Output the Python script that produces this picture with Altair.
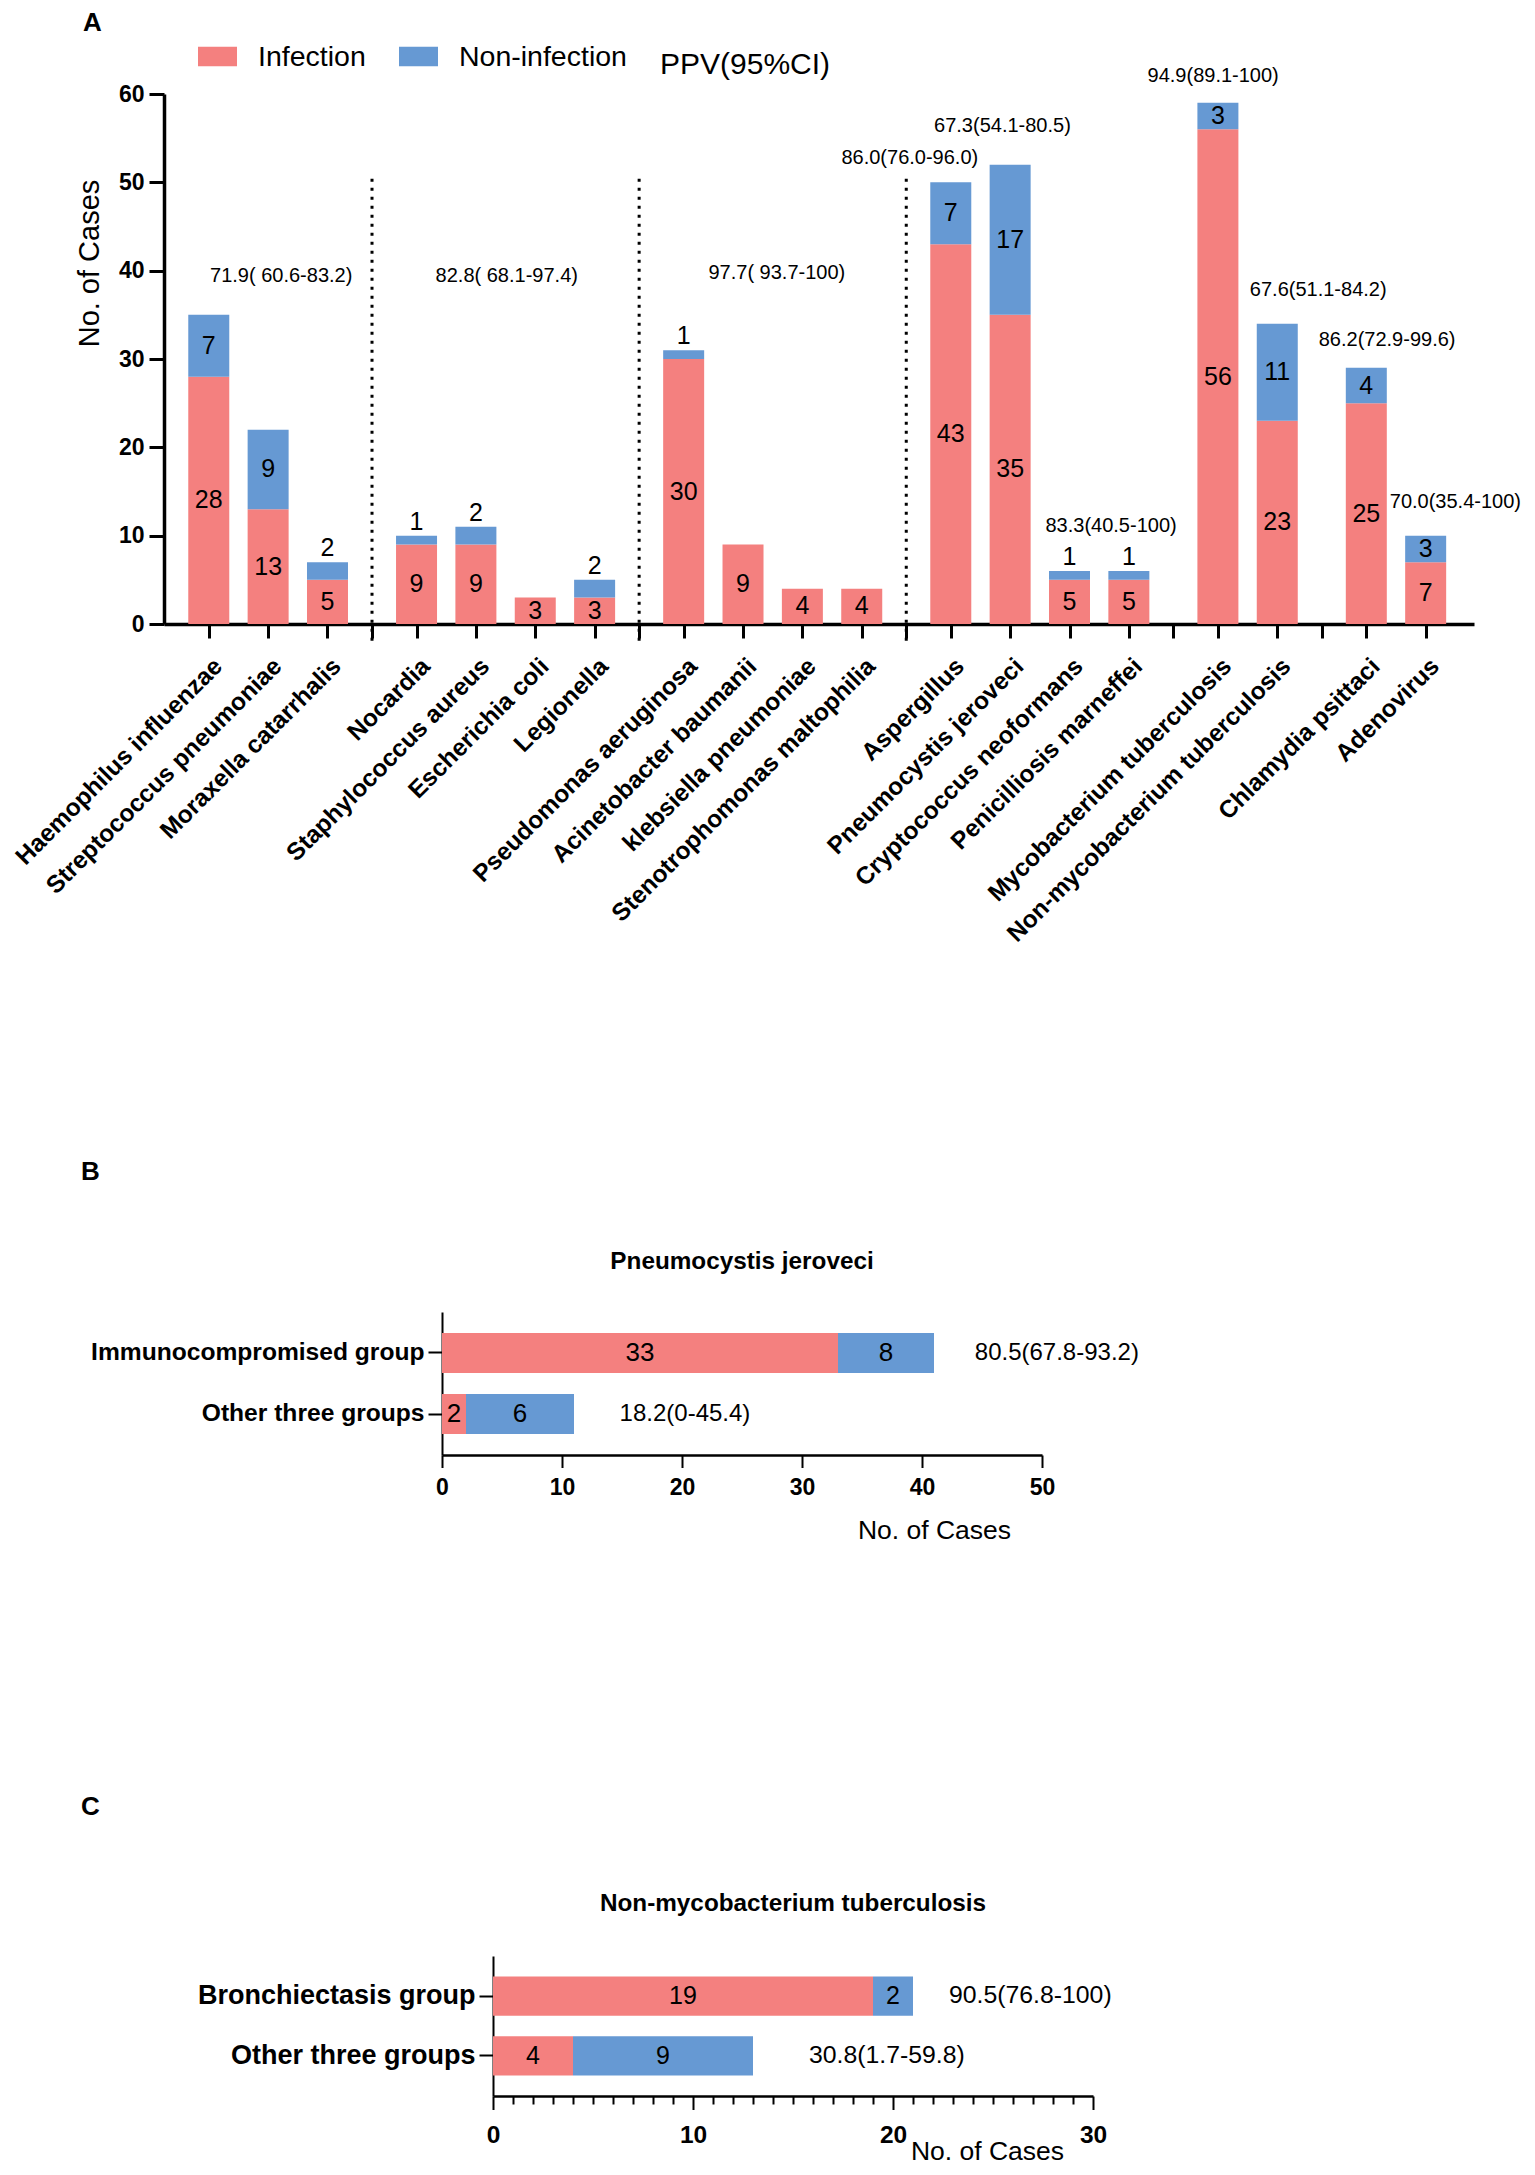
import json
import altair as alt
import pandas as pd

FONT = "Liberation Sans"
PINK = "#F4807F"
BLUE = "#6699D3"
STATUS = ["Infection", "Non-infection"]

# ---------------- Panel A data ----------------
pathogens = [
    "Haemophilus influenzae", "Streptococcus pneumoniae", "Moraxella catarrhalis",
    "Nocardia", "Staphylococcus aureus", "Escherichia coli", "Legionella",
    "Pseudomonas aeruginosa", "Acinetobacter baumanii", "klebsiella pneumoniae",
    "Stenotrophomonas maltophilia",
    "Aspergillus", "Pneumocystis jeroveci", "Cryptococcus neoformans", "Penicilliosis marneffei",
    "Mycobacterium tuberculosis", "Non-mycobacterium tuberculosis",
    "Chlamydia psittaci", "Adenovirus",
]
group_id = [0, 0, 0, 1, 1, 1, 1, 2, 2, 2, 2, 3, 3, 3, 3, 4, 4, 5, 5]
infection = [28, 13, 5, 9, 9, 3, 3, 30, 9, 4, 4, 43, 35, 5, 5, 56, 23, 25, 7]
non_infection = [7, 9, 2, 1, 2, 0, 2, 1, 0, 0, 0, 7, 17, 1, 1, 3, 11, 4, 3]

ppv_labels = ["71.9( 60.6-83.2)", "82.8( 68.1-97.4)", "97.7( 93.7-100)", "86.0(76.0-96.0)",
              "67.3(54.1-80.5)", "83.3(40.5-100)", "94.9(89.1-100)", "67.6(51.1-84.2)",
              "86.2(72.9-99.6)", "70.0(35.4-100)"]
ppv_at = [1.22, 5.02, 9.57, 11.81, 13.37, 15.2, 16.92, 18.69, 19.85, 21.0]
ppv_height = [39.4, 39.4, 39.7, 52.8, 56.4, 11.1, 62.0, 37.8, 32.2, 13.85]

# ---------------- Panel B data ----------------
b_groups = ["Immunocompromised group", "Other three groups"]
b_inf = [33, 2]
b_non = [8, 9]            # bar lengths as drawn (total 11 -> PPV 18.2%)
b_non_text = ["8", "6"]   # numbers printed on the blue segments in the figure
b_ppv = ["80.5(67.8-93.2)", "18.2(0-45.4)"]
b_ppv_at = [44.4, 14.8]

# ---------------- Panel C data ----------------
c_groups = ["Bronchiectasis group", "Other three groups"]
c_inf = [19, 4]
c_non = [2, 9]
c_non_text = ["2", "9"]
c_ppv = ["90.5(76.8-100)", "30.8(1.7-59.8)"]
c_ppv_at = [22.8, 15.8]


def one_row(**kw):
    return pd.DataFrame({k: [v] for k, v in kw.items()})


def anchor(x, y, y2):
    return alt.Chart(one_row(a=0)).mark_rule(opacity=0, strokeWidth=1).encode(
        x=alt.value(x), y=alt.value(y), y2=alt.value(y2))


def letter(t, x, y):
    return alt.Chart(one_row(t=t)).mark_text(
        fontSize=26, fontWeight="bold", align="left", baseline="top", color="black"
    ).encode(x=alt.value(x), y=alt.value(y), text="t:N")


# ================= Panel A =================
n = len(pathogens)
pos = [i + 0.5 * g for i, g in enumerate(group_id)]
gap_pos = []
for g in range(max(group_id)):
    last = max(p for p, k in zip(pos, group_id) if k == g)
    first = min(p for p, k in zip(pos, group_id) if k == g + 1)
    gap_pos.append((last + first) / 2)
divider_pos = gap_pos[:3]
tick_values = sorted(pos + gap_pos)
label_expr = "indexof({p}, datum.value) >= 0 ? {nm}[indexof({p}, datum.value)] : ''".format(
    p=json.dumps(pos), nm=json.dumps(pathogens))

dfA = pd.DataFrame({
    "pos": pos + pos,
    "status": [STATUS[0]] * n + [STATUS[1]] * n,
    "cases": infection + non_infection,
    "ord": [0] * n + [1] * n,
})

inside = []
above = []
for p, a, b in zip(pos, infection, non_infection):
    inside.append({"pos": p, "y": a / 2, "t": str(a)})
    if b >= 3:
        inside.append({"pos": p, "y": a + b / 2, "t": str(b)})
    elif b > 0:
        above.append({"pos": p, "y": a + b, "t": str(b)})

xA = alt.X(
    "pos:Q",
    scale=alt.Scale(domain=[-0.67, 21.23], nice=False, zero=False),
    axis=alt.Axis(
        values=tick_values, tickCount=60, labelExpr=label_expr, labelAngle=315,
        labelAlign="right", labelBaseline="top", labelFontSize=24.5, labelFontWeight="bold",
        labelPadding=16, labelOffset=1, labelOverlap=False, labelFlush=False, labelLimit=600,
        tickSize=14, tickWidth=3, domainWidth=3.5, grid=False, title=None,
    ),
)
yA = alt.Y(
    "cases:Q", stack="zero",
    scale=alt.Scale(domain=[0, 60], nice=False),
    axis=alt.Axis(
        values=[0, 10, 20, 30, 40, 50, 60], labelFontSize=23, labelFontWeight="bold",
        labelPadding=5, tickSize=15, tickWidth=3, domainWidth=3.5, grid=False,
        title="No. of Cases", titleFontSize=29, titleFontWeight="normal",
        titleX=-75, titleY=169, titleAngle=270, titleAlign="center", titleBaseline="middle",
    ),
)

barsA = alt.Chart(dfA).mark_bar(size=41).encode(
    x=xA, y=yA,
    color=alt.Color(
        "status:N", scale=alt.Scale(domain=STATUS, range=[PINK, BLUE]),
        legend=alt.Legend(
            orient="none", legendX=34, legendY=-57, direction="horizontal", title=None,
            symbolType="M-1,-0.5H1V0.5H-1Z", symbolSize=1521, symbolStrokeWidth=0,
            symbolOpacity=1, labelFontSize=28.5, labelOffset=21, columnPadding=33,
            labelLimit=600, padding=0,
        ),
    ),
    order=alt.Order("ord:Q"),
)
textInA = alt.Chart(pd.DataFrame(inside)).mark_text(
    fontSize=25, baseline="middle", align="center", color="black"
).encode(x=alt.X("pos:Q"), y=alt.Y("y:Q", title="No. of Cases"), text="t:N")
textTopA = alt.Chart(pd.DataFrame(above)).mark_text(
    fontSize=25, baseline="alphabetic", align="center", dy=-6, color="black"
).encode(x=alt.X("pos:Q"), y=alt.Y("y:Q", title="No. of Cases"), text="t:N")
dividers = alt.Chart(pd.DataFrame({"pos": divider_pos})).mark_rule(
    strokeDash=[3, 6], strokeWidth=3, color="black"
).encode(x=alt.X("pos:Q"), y=alt.datum(50.4), y2=alt.datum(-2.3))
ppvA = alt.Chart(pd.DataFrame({"pos": ppv_at, "y": ppv_height, "t": ppv_labels})).mark_text(
    fontSize=20, baseline="middle", align="center", color="black"
).encode(x=alt.X("pos:Q"), y=alt.Y("y:Q", title="No. of Cases"), text="t:N")
ppvHead = alt.Chart(one_row(t="PPV(95%CI)")).mark_text(
    fontSize=30, baseline="middle", align="left", color="black"
).encode(x=alt.value(496), y=alt.value(-29), text="t:N")

panelA = alt.layer(
    barsA, textInA, textTopA, dividers, ppvA, ppvHead,
    letter("A", -81, -84), anchor(-155.5, -86, 1047.5),
).properties(width=1310, height=530)


# ================= Panels B and C =================
# All panels share the same left origin (panel A's y axis); B and C are shifted
# right inside their own view via the x range and a matching y-axis offset.
def group_panel(groups, inf, non, non_text, ppv, ppv_at, title, tag, xmax, shift, width, height,
                ylab_size, val_size, ppv_size, xlab_size, x_axis_extra,
                title_y, tag_y, anc_y, xtitle_xy):
    df = pd.DataFrame({"grp": groups, "inf": inf, "non": non})
    df["total"] = df["inf"] + df["non"]
    lab = []
    for g, a, b, bt in zip(groups, inf, non, non_text):
        lab.append({"grp": g, "x": a / 2, "t": str(a)})
        lab.append({"grp": g, "x": a + b / 2, "t": bt})
    y = alt.Y(
        "grp:N", sort=groups, title=None,
        scale=alt.Scale(paddingInner=0.344, paddingOuter=0.344),
        axis=alt.Axis(
            labelFontSize=ylab_size, labelFontWeight="bold", labelPadding=4,
            labelLimit=600, tickSize=14, tickWidth=2, domainWidth=2, title=None,
            offset=-shift,
        ),
    )
    x_axis = dict(
        labelFontSize=xlab_size, labelFontWeight="bold", labelFlush=False, format="d",
        tickWidth=2, domainWidth=2.5, grid=False, tickCount=60,
        title="No. of Cases", titleFontSize=26.5, titleFontWeight="normal",
        titleX=shift + xtitle_xy[0], titleY=xtitle_xy[1], titleAlign="center",
        titleBaseline="middle",
    )
    x_axis.update(x_axis_extra)
    x = alt.X("inf:Q", scale=alt.Scale(domain=[0, xmax], range=[shift, shift + width], nice=False),
              axis=alt.Axis(**x_axis))
    bar_inf = alt.Chart(df).mark_bar(color=PINK).encode(x=x, y=y)
    bar_non = alt.Chart(df).mark_bar(color=BLUE).encode(
        x=alt.X("inf:Q"), x2="total:Q", y=alt.Y("grp:N", sort=groups))
    vals = alt.Chart(pd.DataFrame(lab)).mark_text(
        fontSize=val_size, baseline="middle", align="center", color="black"
    ).encode(x=alt.X("x:Q"), y=alt.Y("grp:N", sort=groups), text="t:N")
    ppv_t = alt.Chart(pd.DataFrame({"grp": groups, "x": ppv_at, "t": ppv})).mark_text(
        fontSize=ppv_size, baseline="middle", align="left", color="black"
    ).encode(x=alt.X("x:Q"), y=alt.Y("grp:N", sort=groups), text="t:N")
    ttl = alt.Chart(one_row(t=title)).mark_text(
        fontSize=24.3, fontWeight="bold", baseline="middle", align="center", color="black"
    ).encode(x=alt.datum(xmax / 2), y=alt.value(title_y), text="t:N")
    return alt.layer(
        bar_inf, bar_non, vals, ppv_t, ttl,
        letter(tag, -83, tag_y), anchor(-100, anc_y[0], anc_y[1]),
    ).properties(width=shift + width, height=height)


panelB = group_panel(
    b_groups, b_inf, b_non, b_non_text, b_ppv, b_ppv_at, "Pneumocystis jeroveci", "B",
    50, 278, 600, 143,
    ylab_size=24.6, val_size=26, ppv_size=24, xlab_size=23,
    x_axis_extra=dict(values=[0, 10, 20, 30, 40, 50], tickSize=12.5, labelPadding=9),
    title_y=-50, tag_y=-153, anc_y=(-170, 326.5), xtitle_xy=(492, 75),
)
panelC = group_panel(
    c_groups, c_inf, c_non, c_non_text, c_ppv, c_ppv_at, "Non-mycobacterium tuberculosis", "C",
    30, 329, 600, 140,
    ylab_size=27, val_size=25, ppv_size=24.8, xlab_size=24.5,
    x_axis_extra=dict(
        values=list(range(0, 31)),
        labelExpr="datum.value % 10 === 0 ? datum.label : ''",
        labelOverlap=False,
        tickSize={"condition": {"test": "datum.value % 10 === 0", "value": 13.5}, "value": 8},
        labelPadding=14,
    ),
    title_y=-52, tag_y=-161.6, anc_y=(-317, 195), xtitle_xy=(494, 55.5),
)

chart = (
    alt.concat(panelA, panelB, panelC, columns=1, spacing=0, bounds="full")
    .resolve_scale(color="independent")
    .resolve_legend(color="independent")
    .properties(padding=0, background="white")
    .configure(font=FONT)
    .configure_view(stroke=None)
    .configure_axis(domainColor="black", tickColor="black", labelColor="black",
                    titleColor="black", labelFont=FONT, titleFont=FONT)
    .configure_legend(labelFont=FONT, labelColor="black")
    .configure_text(font=FONT)
)

chart.save("out.html", embed_options={"renderer": "svg", "actions": False})
